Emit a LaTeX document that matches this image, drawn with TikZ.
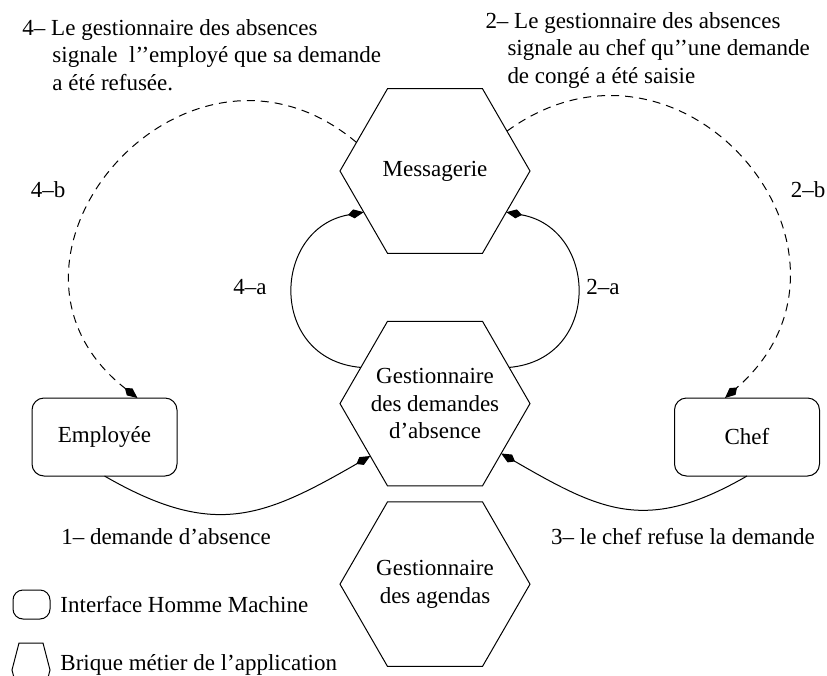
\documentclass[tikz,border=0pt]{standalone}
\usepackage{fontspec}
\setmainfont{Liberation Serif}
\usetikzlibrary{shapes.geometric,arrows.meta,positioning}

\begin{document}
\begin{tikzpicture}[x=0.5pt,y=0.5pt,
    font=\fontsize{11.5}{13.75}\selectfont, line width=0.5pt,
    brique/.style={draw, regular polygon, regular polygon sides=6, minimum size=95pt, inner sep=-12pt, outer sep=0pt, align=center},
    ihm/.style={draw, rounded corners=6pt, minimum width=72.5pt, minimum height=39pt, outer sep=0pt},
    flux/.style={-{Kite[length=8pt,width=4.5pt,inset=3pt]}},
    signal/.style={flux, dash pattern=on 4pt off 3pt},
    texte/.style={inner sep=0pt, align=left}]
    \useasboundingbox (0,0) rectangle (827,-676);

    % briques metier
    \node[brique] (msg) at (435,-171) {Messagerie};
    \node[brique, below=34pt of msg] (gda) {Gestionnaire\\des demandes\\d’absence};
    \node[brique, below=8pt of gda] (agd) {Gestionnaire\\des agendas};

    % interfaces
    \node[ihm] (emp) at (104.5,-437) {Employée};
    \node[ihm] (chef) at (747,-437) {Chef};

    % flux
    \draw[flux] (emp.south) to[out=-30, in=210, looseness=1.2] (gda.219);
    \draw[flux] (chef.south) to[out=-150, in=-30, looseness=1.2] (gda.-37);
    \draw[flux] (gda.154) to[out=175, in=190, looseness=1.54] (msg.210);
    \draw[flux] (gda.26) to[out=5, in=-10, looseness=1.54] (msg.-30);
    \draw[signal] (msg.160) to[out=140, in=142, looseness=1.7] ([xshift=16.5pt]emp.north);
    \draw[signal] (msg.29) to[out=36, in=41, looseness=1.63] ([xshift=-11pt]chef.north);

    % textes
    \node[texte, anchor=north west] (t4) at (22,-19) {4– Le gestionnaire des absences\\\hspace*{15pt}signale\ \ l’’employé que sa demande\\\hspace*{15pt}a été refusée.};
    \node[texte, anchor=north west] (t2) at (485,-12) {2– Le gestionnaire des absences\\\hspace*{11pt}signale au chef qu’’une demande\\\hspace*{11pt}de congé a été saisie};
    \node[texte] (l4b) at (48,-190) {4–b};
    \node[texte] (l2b) at (808,-190) {2–b};
    \node[texte] (l4a) at (250,-287) {4–a};
    \node[texte] (l2a) at (603,-287) {2–a};
    \node[texte] (l1) at (166,-537) {1– demande d’absence};
    \node[texte] (l3) at (683,-537) {3– le chef refuse la demande};

    % legende
    \node[ihm, minimum width=18.5pt, minimum height=14.5pt, rounded corners=5pt] (legihm) at (31.5,-604.5) {};
    \node[texte, anchor=west] (txtihm) at (60,-605) {Interface Homme Machine};
    \draw (12,-670) -- (19,-643) -- (43,-643) -- (50,-670) -- (43,-697) -- (19,-697) -- cycle;
    \node[texte, anchor=west] (txtbrique) at (60,-665) {Brique métier de l’application};
\end{tikzpicture}
\end{document}
